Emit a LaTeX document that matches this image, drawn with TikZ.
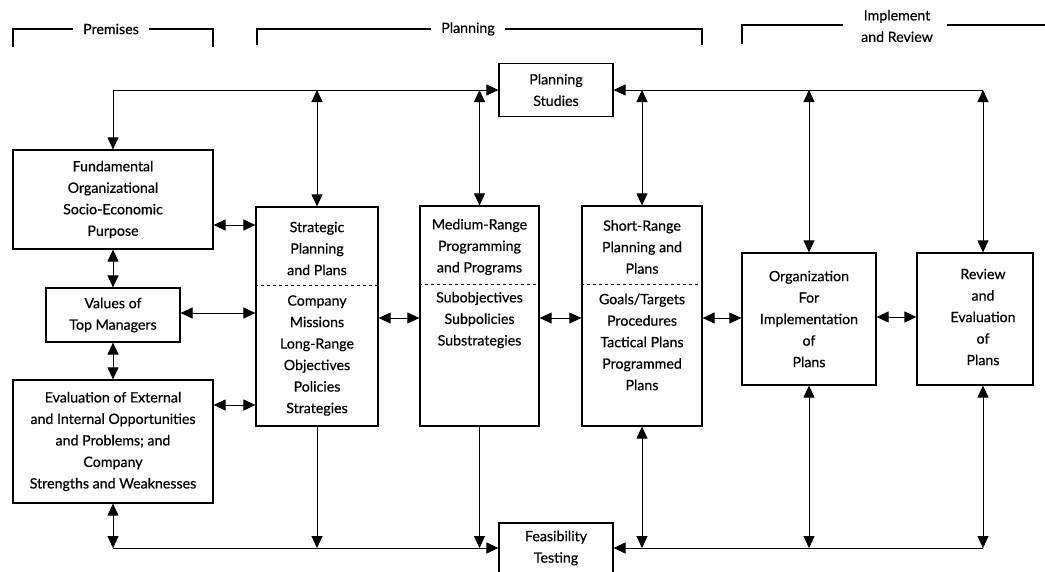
\documentclass[tikz,border=0pt]{standalone}
\usepackage{fontspec}
\setmainfont{Lato}
\newfontfamily\diagfont{Lato}[FakeBold=0.5]
\usetikzlibrary{arrows.meta}

\begin{document}
\begin{tikzpicture}[x=1pt,y=-1pt,
  >={Triangle[length=12pt,width=11pt]},
  txt/.style={align=center,font=\diagfont\fontsize{14.2}{21.5}\selectfont,inner sep=0pt},
  box/.style={draw,line width=1.2pt,inner sep=0pt,txt},
  link/.style={line width=1pt},
  sep/.style={line width=0.8pt,dash pattern=on 3pt off 3pt},
  bracket/.style={line width=1.1pt},
  head/.style={txt,inner xsep=10pt}]

\useasboundingbox (0,0) rectangle (1045,571);
\clip (0,0) rectangle (1045,571);

% ---- phase headings ----
\node[head] (prem) at (111,29) {Premises};
\draw[bracket] (13,47) |- (prem.west);
\draw[bracket] (prem.east) -| (213,47);

\node[head] (plan) at (468,29) {Planning};
\draw[bracket] (257,45) |- (plan.west);
\draw[bracket] (plan.east) -| (702,45);

\node[head,inner xsep=0pt] (impl) at (897,26) {Implement\\and Review};
\draw[bracket] (742,44) |- (843,25);
\draw[bracket] (947,25) -- (1045,25);

% ---- boxes ----
\node[box,minimum width=114pt,minimum height=53pt] (ps) at (556,90)
  {\fontsize{14.2}{20}\selectfont Planning\\Studies};
\node[box,minimum width=200pt,minimum height=99pt] (fund) at (113,199.5)
  {Fundamental\\Organizational\\Socio-Economic\\Purpose};
\node[box,minimum width=134pt,minimum height=54pt] (val) at (113,315)
  {Values of\\Top Managers};
\node[box,minimum width=200pt,minimum height=123pt] (eval) at (113,441.5)
  {Evaluation of External\\and Internal Opportunities\\and Problems; and\\Company\\Strengths and Weaknesses};

% strategic
\node[box,minimum width=122pt,minimum height=219pt] (strat) at (317,316.5) {};
\draw[sep] (strat.west |- 0,285) -- (strat.east |- 0,285);
\node[txt] (stratT) at (317,248.5) {Strategic\\Planning\\and Plans};
\node[txt] (stratB) at (317,355.5) {Company\\Missions\\Long-Range\\Objectives\\Policies\\Strategies};

% medium range
\node[box,minimum width=119pt,minimum height=220pt] (med) at (479.5,316) {};
\draw[sep] (med.west |- 0,284) -- (med.east |- 0,284);
\node[txt] (medT) at (479.5,247) {Medium-Range\\Programming\\and Programs};
\node[txt] (medB) at (479.5,320) {Subobjectives\\Subpolicies\\Substrategies};

% short range
\node[box,minimum width=120pt,minimum height=220pt] (short) at (642,316) {};
\draw[sep] (short.west |- 0,284) -- (short.east |- 0,284);
\node[txt] (shortT) at (642,247) {Short-Range\\Planning and\\Plans};
\node[txt] (shortB) at (642,342) {Goals/Targets\\Procedures\\Tactical Plans\\Programmed\\Plans};

\node[box,minimum width=134pt,minimum height=132pt] (org) at (809,319)
  {Organization\\For\\Implementation\\of\\Plans};
\node[box,minimum width=116pt,minimum height=132pt] (rev) at (975,319) {};
\node[txt] (revT) at (983,317) {Review\\and\\Evaluation\\of\\Plans};

\node[box,minimum width=114pt,minimum height=50pt] (feas) at (556,548)
  {\fontsize{14.2}{20}\selectfont Feasibility\\Testing};

% ---- top feedback bus ----
\coordinate (rt) at (983,90);
\coordinate (rb) at (983,548);
\draw[link,<->] (fund.north) |- (ps.west);
\draw[link,->] (rt) -- (ps.east);
\draw[link,<->] (strat.north |- ps.west) -- (strat.north);
\draw[link,<->] (med.north |- ps.west) -- (med.north);
\draw[link,<->] (short.north |- ps.west) -- (short.north);
\draw[link,<->] (org.north |- ps.west) -- (org.north);
\draw[link,<->] (rt) -- (rt |- rev.north);

% ---- bottom feedback bus ----
\draw[link,->] (eval.south |- feas.west) -- (feas.west);
\draw[link,<->] (eval.south) -- (eval.south |- feas.west);
\draw[link,->] (strat.south) -- (strat.south |- feas.west);
\draw[link,->] (med.south) -- (med.south |- feas.west);
\draw[link,<->] (short.south) -- (short.south |- feas.west);
\draw[link,<->] (org.south) -- (org.south |- feas.west);
\draw[link,<->] (rt |- rev.south) -- (rb);
\draw[link,->] (rb) -- (feas.east);

% ---- links between the columns ----
\draw[link,<->] (fund.south) -- (val.north);
\draw[link,<->] (val.south) -- (eval.north);
\draw[link,<->] (fund.east |- 0,225) -- (strat.west |- 0,225);
\draw[link,<->] (val.east |- 0,313) -- (strat.west |- 0,313);
\draw[link,<->] (eval.east |- 0,405) -- (strat.west |- 0,405);
\draw[link,<->] (strat.east |- 0,318) -- (med.west |- 0,318);
\draw[link,<->] (med.east |- 0,318) -- (short.west |- 0,318);
\draw[link,<->] (short.east |- 0,318) -- (org.west |- 0,318);
\draw[link,<->] (org.east |- 0,317) -- (rev.west |- 0,317);
\end{tikzpicture}
\end{document}
